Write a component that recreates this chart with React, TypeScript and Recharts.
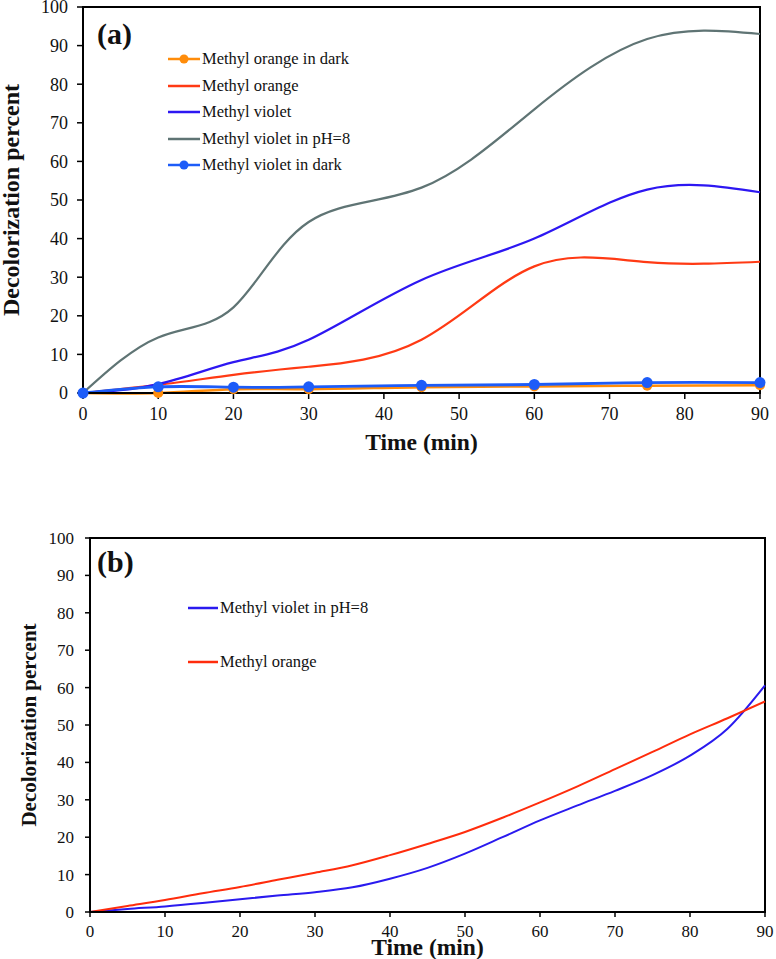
import React from 'react';
import { LineChart, Line, XAxis, YAxis, ReferenceArea, Label } from 'recharts';

// (a) sampled times and series (percent)
const timeA = [0, 10, 20, 30, 45, 60, 75, 90];
const moDarkA = [0, 0, 1, 1, 1.5, 1.7, 1.9, 2];
const moA = [0, 2.1, 4.7, 6.8, 13.8, 32.8, 33.9, 34];
const mvA = [0, 2.3, 8, 13.8, 29.3, 40, 52.7, 52];
const mvPh8A = [0, 14.4, 22.2, 44.3, 53.2, 73.5, 91.7, 93];
const mvDarkA = [0, 1.6, 1.5, 1.6, 2, 2.2, 2.7, 2.7];

// (b)
const timeB = [0, 5, 10, 15, 20, 25, 30, 35, 40, 45, 50, 55, 60, 65, 70, 75, 80, 85, 90];
const mvPh8B = [0, 0.8, 1.5, 2.4, 3.4, 4.4, 5.3, 6.6, 8.9, 11.8, 15.6, 20, 24.5, 28.5, 32.4, 36.6, 41.8, 49, 60.6];
const moB = [0, 1.6, 3.2, 5, 6.7, 8.6, 10.5, 12.5, 15.2, 18.2, 21.4, 25.2, 29.3, 33.6, 38.2, 42.8, 47.5, 51.8, 56.3];

const xTicks = [0, 10, 20, 30, 40, 50, 60, 70, 80, 90];
const yTicks = [0, 10, 20, 30, 40, 50, 60, 70, 80, 90, 100];

const dataA = timeA.map((t, i) => ({
  t,
  moDark: moDarkA[i],
  mo: moA[i],
  mv: mvA[i],
  mvPh8: mvPh8A[i],
  mvDark: mvDarkA[i],
}));
const dataB = timeB.map((t, i) => ({ t, mvPh8: mvPh8B[i], mo: moB[i] }));

const serif = "'Liberation Serif', 'Times New Roman', serif";

const C = {
  gray: '#5f7474',
  violet: '#2d17f2',
  red: '#ff3a14',
  orange: '#ff8c0a',
  blue: '#1d5cf8',
  violetB: '#2a1aef',
  redB: '#ff2c0c',
};

type LegendItem = { name: string; color: string; dot?: boolean };

const legendA: LegendItem[] = [
  { name: 'Methyl orange in dark', color: C.orange, dot: true },
  { name: 'Methyl orange', color: C.red },
  { name: 'Methyl violet', color: C.violet },
  { name: 'Methyl violet in pH=8', color: C.gray },
  { name: 'Methyl violet in dark', color: C.blue, dot: true },
];
const legendB: LegendItem[] = [
  { name: 'Methyl violet in pH=8', color: C.violetB },
  { name: 'Methyl orange', color: C.redB },
];

function LegendBox({ items, left, top, rowGap, lineW }: { items: LegendItem[]; left: number; top: number; rowGap: number; lineW: number }) {
  return (
    <div style={{ position: 'absolute', left, top, fontFamily: serif, fontSize: 16.5, color: '#111' }}>
      {items.map((it, i) => (
        <div key={it.name} style={{ position: 'absolute', top: i * rowGap, left: 0, height: 20, display: 'flex', alignItems: 'center', whiteSpace: 'nowrap' }}>
          <svg width={lineW} height={14} style={{ marginRight: 2 }}>
            <line x1={0} y1={7} x2={lineW} y2={7} stroke={it.color} strokeWidth={2.5} />
            {it.dot && <circle cx={lineW / 2} cy={7} r={4.5} fill={it.color} />}
          </svg>
          <span>{it.name}</span>
        </div>
      ))}
    </div>
  );
}

const xTitle = (cy: number) => (props: any) => {
  const vb = props.viewBox;
  return (
    <text x={vb.x + vb.width / 2} y={cy} textAnchor="middle" dominantBaseline="central" fontFamily={serif} fontWeight="bold" fontSize={23.5} fill="#111">
      Time (min)
    </text>
  );
};

const yTitle = (cx: number, size: number) => (props: any) => {
  const vb = props.viewBox;
  const cy = vb.y + vb.height / 2;
  return (
    <text x={cx} y={cy} transform={`rotate(-90 ${cx} ${cy})`} textAnchor="middle" dominantBaseline="central" fontFamily={serif} fontWeight="bold" fontSize={size} fill="#111">
      Decolorization percent
    </text>
  );
};

export default function App() {
  const axisLine = { stroke: '#000', strokeWidth: 2 };
  const tickLine = { stroke: '#000', strokeWidth: 1.5 };
  return (
    <div style={{ position: 'absolute', left: 0, top: 0, width: 776, height: 959, background: '#fff', overflow: 'hidden' }}>
      <div style={{ position: 'absolute', left: 0, top: 0 }}>
        <LineChart width={776} height={460} data={dataA} margin={{ top: 7, right: 16, bottom: 0, left: 0 }}>
          <XAxis dataKey="t" type="number" domain={[0, 90]} ticks={xTicks} interval={0} height={67} tickSize={6} tickMargin={8}
            axisLine={axisLine} tickLine={tickLine} tick={{ fill: '#111', fontSize: 18, fontFamily: serif }}>
            <Label content={xTitle(442)} />
          </XAxis>
          <YAxis type="number" domain={[0, 100]} ticks={yTicks} interval={0} width={83} tickSize={6} tickMargin={9}
            axisLine={axisLine} tickLine={tickLine} tick={{ fill: '#111', fontSize: 18, fontFamily: serif }}>
            <Label content={yTitle(11, 24)} />
          </YAxis>
          <ReferenceArea x1={0} x2={90} y1={0} y2={100} fill="none" fillOpacity={0} stroke="#000" strokeWidth={2} ifOverflow="visible" />
          <Line type="natural" dataKey="moDark" stroke={C.orange} strokeWidth={2.5} dot={{ r: 5, fill: C.orange, stroke: C.orange, strokeWidth: 0 }} isAnimationActive={false} />
          <Line type="natural" dataKey="mo" stroke={C.red} strokeWidth={2.2} dot={false} isAnimationActive={false} />
          <Line type="natural" dataKey="mv" stroke={C.violet} strokeWidth={2.2} dot={false} isAnimationActive={false} />
          <Line type="natural" dataKey="mvPh8" stroke={C.gray} strokeWidth={2.2} dot={false} isAnimationActive={false} />
          <Line type="natural" dataKey="mvDark" stroke={C.blue} strokeWidth={2.8} dot={{ r: 5.5, fill: C.blue, stroke: C.blue, strokeWidth: 0 }} isAnimationActive={false} />
        </LineChart>
      </div>
      <LegendBox items={legendA} left={168} top={49} rowGap={26.5} lineW={32} />
      <span style={{ position: 'absolute', left: 97, top: 17, fontFamily: serif, fontWeight: 'bold', fontSize: 30, lineHeight: '34px', color: '#111' }}>(a)</span>

      <div style={{ position: 'absolute', left: 0, top: 480 }}>
        <LineChart width={776} height={479} data={dataB} margin={{ top: 58, right: 11, bottom: 0, left: 0 }}>
          <XAxis dataKey="t" type="number" domain={[0, 90]} ticks={xTicks} interval={0} height={47} tickSize={5} tickMargin={8}
            axisLine={axisLine} tickLine={tickLine} tick={{ fill: '#111', fontSize: 17, fontFamily: serif }}>
            <Label content={xTitle(467)} />
          </XAxis>
          <YAxis type="number" domain={[0, 100]} ticks={yTicks} interval={0} width={90} tickSize={5} tickMargin={11}
            axisLine={axisLine} tickLine={tickLine} tick={{ fill: '#111', fontSize: 17, fontFamily: serif }}>
            <Label content={yTitle(29, 21)} />
          </YAxis>
          <ReferenceArea x1={0} x2={90} y1={0} y2={100} fill="none" fillOpacity={0} stroke="#000" strokeWidth={2} ifOverflow="visible" />
          <Line type="monotone" dataKey="mvPh8" stroke={C.violetB} strokeWidth={2} dot={false} isAnimationActive={false} />
          <Line type="monotone" dataKey="mo" stroke={C.redB} strokeWidth={2} dot={false} isAnimationActive={false} />
        </LineChart>
      </div>
      <LegendBox items={legendB} left={188} top={598} rowGap={54} lineW={30} />
      <span style={{ position: 'absolute', left: 97, top: 545, fontFamily: serif, fontWeight: 'bold', fontSize: 30, lineHeight: '34px', color: '#111' }}>(b)</span>
    </div>
  );
}
